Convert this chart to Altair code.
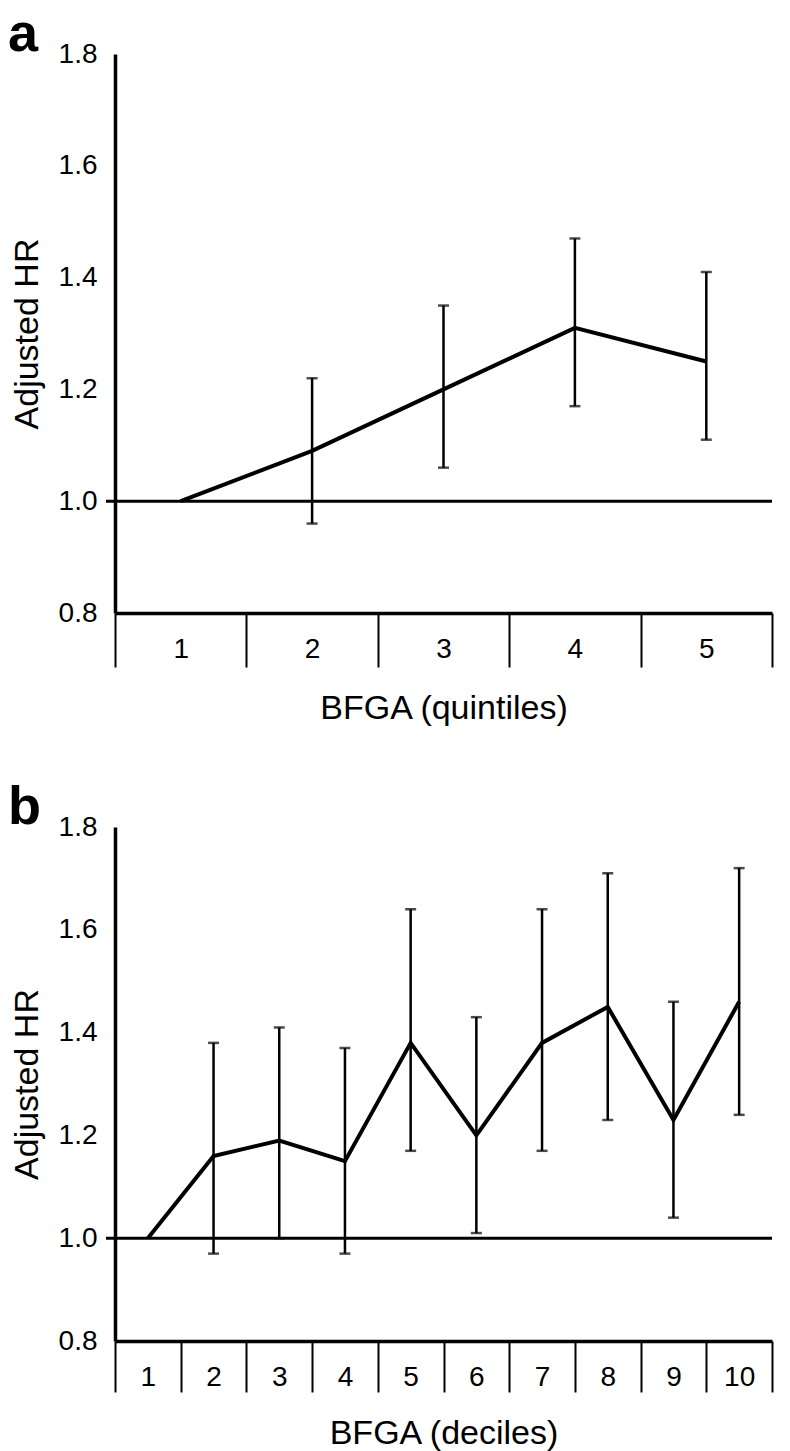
import altair as alt
import pandas as pd

FONT = "Liberation Sans"

# Panel a: quintiles
q_cat = ["1", "2", "3", "4", "5"]
q_hr = [1.00, 1.09, 1.20, 1.31, 1.25]
q_lo = [None, 0.96, 1.06, 1.17, 1.11]
q_hi = [None, 1.22, 1.35, 1.47, 1.41]

# Panel b: deciles
d_cat = ["1", "2", "3", "4", "5", "6", "7", "8", "9", "10"]
d_hr = [1.00, 1.16, 1.19, 1.15, 1.38, 1.20, 1.38, 1.45, 1.23, 1.46]
d_lo = [None, 0.97, 1.00, 0.97, 1.17, 1.01, 1.17, 1.23, 1.04, 1.24]
d_hi = [None, 1.38, 1.41, 1.37, 1.64, 1.43, 1.64, 1.71, 1.46, 1.72]

y_ticks = [0.8, 1.0, 1.2, 1.4, 1.6, 1.8]
ref_value = [1.0]
panel_letters = ["a", "b"]

W = 657


def panel(cats, hr, lo, hi, letter, xtitle, h, ticklen):
    df = pd.DataFrame({"g": cats, "hr": hr, "lo": lo, "hi": hi})
    xscale = alt.Scale(domain=cats, paddingInner=0, paddingOuter=0)
    x = alt.X(
        "g:N",
        sort=cats,
        scale=xscale,
        axis=alt.Axis(
            title=xtitle,
            labelAngle=0,
            tickBand="extent",
            tickSize=ticklen,
            tickWidth=2,
            tickColor="black",
            domainWidth=3.5,
            domainColor="black",
            labelFontSize=28,
            labelFont=FONT,
            labelColor="black",
            labelBaseline="middle",
            labelPadding=36 - ticklen,
            titleFontSize=34,
            titleFont=FONT,
            titleFontWeight="normal",
            titleColor="black",
            titlePadding=23,
        ),
    )
    y = alt.Y(
        "hr:Q",
        scale=alt.Scale(domain=[0.8, 1.8], nice=False, zero=False),
        axis=alt.Axis(
            title="Adjusted HR",
            values=y_ticks,
            format=".1f",
            ticks=False,
            grid=False,
            domainWidth=3.5,
            domainColor="black",
            labelFontSize=28,
            labelFont=FONT,
            labelColor="black",
            labelPadding=18,
            titleFontSize=34,
            titleFont=FONT,
            titleFontWeight="normal",
            titleColor="black",
            titlePadding=14,
        ),
    )
    base = alt.Chart(df)
    ref = (
        alt.Chart(pd.DataFrame({"r": ref_value}))
        .mark_rule(color="black", strokeWidth=3)
        .encode(y=alt.Y("r:Q"), x=alt.value(-9), x2=alt.value(W))
    )
    bars = base.transform_filter("isValid(datum.lo)")
    eb = bars.mark_rule(color="black", strokeWidth=2.5).encode(
        x=alt.X("g:N", sort=cats), y=alt.Y("lo:Q"), y2="hi:Q"
    )
    cap_lo = bars.mark_tick(color="black", thickness=2.5, size=11).encode(
        x=alt.X("g:N", sort=cats), y=alt.Y("lo:Q")
    )
    cap_hi = bars.mark_tick(color="black", thickness=2.5, size=11).encode(
        x=alt.X("g:N", sort=cats), y=alt.Y("hi:Q")
    )
    line = base.mark_line(color="black", strokeWidth=4).encode(x=x, y=y)
    lab = (
        alt.Chart(pd.DataFrame({"t": [letter]}))
        .mark_text(
            font=FONT,
            fontSize=54,
            fontWeight="bold",
            align="left",
            baseline="alphabetic",
            color="black",
        )
        .encode(text="t:N", x=alt.value(-107), y=alt.value(-3))
    )
    return alt.layer(line, ref, eb, cap_lo, cap_hi, lab).properties(width=W, height=h)


pa = panel(q_cat, q_hr, q_lo, q_hi, panel_letters[0], "BFGA (quintiles)", 559, 54)
pb = panel(d_cat, d_hr, d_lo, d_hi, panel_letters[1], "BFGA (deciles)", 514, 51)

chart = (
    alt.vconcat(pa, pb, spacing=56)
    .properties(padding={"left": 0, "top": 0, "right": 5, "bottom": 2}, background="white")
    .configure_view(stroke=None)
)

chart.save("out.html", embed_options={"renderer": "svg", "actions": False})
